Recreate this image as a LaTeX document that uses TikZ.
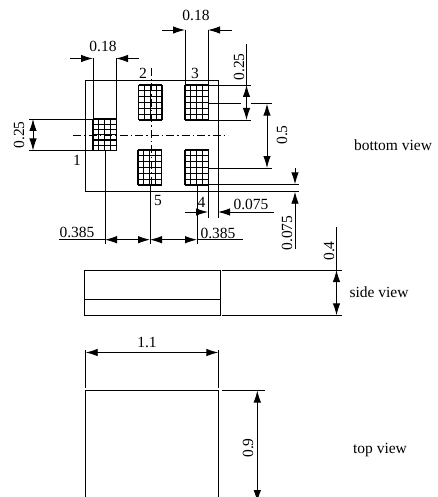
\documentclass[tikz,border=0pt]{standalone}
\usepackage{fontspec}
\setmainfont{Liberation Serif}
\usetikzlibrary{arrows.meta, positioning}

\begin{document}
\begin{tikzpicture}[
    x=1pt, y=-1pt,
    line width=0.9pt,
    every node/.style={inner sep=0pt, font=\fontsize{15.5}{16}\selectfont},
    dim/.style={-{Latex[length=12pt,width=7.5pt]}},
    dimboth/.style={{Latex[length=12pt,width=7.5pt]}-{Latex[length=12pt,width=7.5pt]}},
    center line/.style={line width=0.7pt, dash pattern=on 8pt off 3pt on 1.5pt off 3pt},
    vert/.style={rotate=90}
    ]
    \clip (0,0) rectangle (438,497);

    % Bottom view
    \draw (85,80) rectangle (218,191.7);
    \foreach \px/\py/\ph in {93/119/31.5, 138.5/85/35, 185/85/35, 138/150/35, 185/150/35} {
        \foreach \i in {0,...,4}
            \draw[line width=1.2pt] ({\px+\i*5.88},\py) -- ({\px+\i*5.88},{\py+\ph});
        \foreach \j in {0,...,6}
            \draw[line width=1.2pt] (\px,{\py+\j*\ph/6}) -- ({\px+23.5},{\py+\j*\ph/6});
    }
    \draw[center line] (73,135) -- (228,135);
    \draw[center line] (151,68) -- (151,184);

    % Pad numbers
    \node (one) at (77,160) {1};
    \node (two) at (143,73) {2};
    \node (three) at (195,73) {3};
    \node (four) at (201.5,202) {4};
    \node (five) at (158,201) {5};

    % Pad width, left
    \draw (93,58.5) -- (93,119);
    \draw (116,58.5) -- (116,119);
    \draw[dim] (70,58.5) -- (93,58.5);
    \draw[dim] (139,58.5) -- (116,58.5);
    \node (widthleft) at (103,46) {0.18};

    % Pad width, top
    \draw (185,30) -- (185,85);
    \draw (208,30) -- (208,85);
    \draw[dim] (162,30) -- (185,30);
    \draw[dim] (232,30) -- (208,30);
    \node (widthtop) at (196,15) {0.18};

    % Pad height, left
    \draw (29,119) -- (93,119);
    \draw (29,150.5) -- (93,150.5);
    \draw[dimboth] (33,119) -- (33,150.5);
    \node[vert] (heightleft) at (19,135) {0.25};

    % Pad height, right
    \draw (209,85) -- (251,85);
    \draw (209,120) -- (251,120);
    \draw (246.5,44) -- (246.5,85);
    \draw[dimboth] (246.5,85) -- (246.5,120);
    \node[vert] (heightright) at (239,67) {0.25};

    % Pitch
    \draw (209,103.7) -- (240.5,103.7);
    \draw (250.5,103.7) -- (272,103.7);
    \draw (209,168) -- (272,168);
    \draw[dimboth] (267,103.7) -- (267,168);
    \node[vert] (pitch) at (282,135) {0.5};

    % Edge offset, vertical
    \draw (209,184.3) -- (298.6,184.3);
    \draw (218,191.7) -- (298.6,191.7);
    \draw[dim] (295,168) -- (295,184.3);
    \draw[dim] (295,249) -- (295,191.7);
    \node[vert] (offsetv) at (287,233) {0.075};

    % Edge offset, horizontal
    \draw (208,185) -- (208,217.5);
    \draw (218,191.7) -- (218,217.5);
    \draw[dim] (185,212) -- (208,212);
    \draw[dim] (274,212) -- (218,212);
    \node (offseth) at (251,204) {0.075};

    % Pad spacing
    \draw (105,150) -- (105,244);
    \draw (150,185) -- (150,244);
    \draw (197,185) -- (197,244);
    \draw (59,239.7) -- (105,239.7);
    \draw[dimboth] (105,239.7) -- (150,239.7);
    \draw[dimboth] (150,239.7) -- (197,239.7);
    \draw (197,239.7) -- (243,239.7);
    \node (spacingleft) at (77,232) {0.385};
    \node (spacingright) at (218,233) {0.385};
    \node (bottomview) at (393,145) {bottom view};

    % Side view
    \draw (84.5,270) rectangle (220,315.3);
    \draw (84.5,299.3) -- (220,299.3);
    \draw (222,270) -- (342,270);
    \draw (222,315.3) -- (342,315.3);
    \draw (336.5,227) -- (336.5,270);
    \draw[dimboth] (336.5,270) -- (336.5,315.3);
    \node[vert] (height) at (329,251) {0.4};
    \node (sideview) at (379,292) {side view};

    % Top view
    \draw (85.7,350) -- (85.7,388);
    \draw (218.3,350) -- (218.3,388);
    \draw[dimboth] (85.7,352.5) -- (218.3,352.5);
    \node (length) at (147,342) {1.1};
    \draw (85.7,500) -- (85.7,390.5) -- (218.3,390.5) -- (218.3,500);
    \draw (222,390.5) -- (264.7,390.5);
    \draw[dimboth] (257.3,390.5) -- (257.3,502);
    \node[vert] (width) at (248,448) {0.9};
    \node (topview) at (380,450) {top view};

\end{tikzpicture}
\end{document}
